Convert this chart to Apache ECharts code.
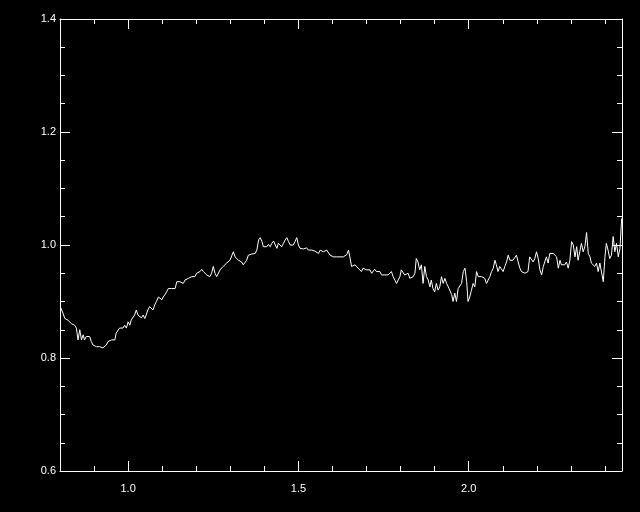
<!DOCTYPE html>
<html>
<head>
<meta charset="utf-8">
<script src="https://cdn.jsdelivr.net/npm/echarts/dist/echarts.min.js"></script>
<style>
  html, body { margin: 0; padding: 0; background: #000; }
  #chart { width: 640px; height: 512px; }
</style>
</head>
<body>
<div id="chart"></div>
<script>
// ---- data ----
const wavelengthA = [0.802, 0.809, 0.814, 0.823, 0.833, 0.843, 0.848, 0.853, 0.858, 0.863, 0.868, 0.872, 0.877, 0.882, 0.887, 0.892, 0.897, 0.902, 0.907, 0.912, 0.916, 0.921, 0.926, 0.931, 0.936, 0.941, 0.946, 0.951, 0.956, 0.961, 0.965, 0.970, 0.975, 0.980, 0.985, 0.990, 0.995, 1.000, 1.005, 1.009, 1.014, 1.019, 1.024, 1.029, 1.034, 1.039, 1.044, 1.049, 1.053, 1.058, 1.063, 1.068, 1.073, 1.078, 1.083];
const fluxA = [0.889, 0.879, 0.870, 0.867, 0.861, 0.858, 0.853, 0.832, 0.850, 0.832, 0.841, 0.832, 0.838, 0.835, 0.838, 0.829, 0.823, 0.826, 0.820, 0.823, 0.820, 0.822, 0.818, 0.820, 0.823, 0.829, 0.832, 0.832, 0.829, 0.832, 0.844, 0.847, 0.853, 0.855, 0.853, 0.858, 0.853, 0.864, 0.858, 0.867, 0.870, 0.876, 0.885, 0.876, 0.873, 0.871, 0.876, 0.870, 0.876, 0.885, 0.891, 0.888, 0.885, 0.894, 0.900];

const wavelengthB = [1.089, 1.094, 1.099, 1.103, 1.108, 1.113, 1.118, 1.123, 1.128, 1.133, 1.138, 1.143, 1.147, 1.152, 1.157, 1.162, 1.167, 1.172, 1.177, 1.182, 1.187, 1.191, 1.196, 1.201, 1.206, 1.211, 1.216, 1.221, 1.226, 1.231, 1.235, 1.240, 1.245, 1.250, 1.255, 1.260, 1.265, 1.270, 1.275, 1.279, 1.284, 1.289, 1.294, 1.299, 1.304, 1.309, 1.314, 1.319, 1.324, 1.328, 1.333, 1.338, 1.343, 1.348, 1.353, 1.358, 1.363, 1.368];
const fluxB = [0.908, 0.906, 0.903, 0.908, 0.912, 0.917, 0.923, 0.920, 0.923, 0.926, 0.923, 0.935, 0.938, 0.935, 0.935, 0.932, 0.938, 0.935, 0.941, 0.938, 0.944, 0.941, 0.944, 0.950, 0.950, 0.953, 0.957, 0.953, 0.950, 0.947, 0.950, 0.944, 0.950, 0.962, 0.950, 0.944, 0.944, 0.956, 0.959, 0.962, 0.959, 0.968, 0.970, 0.973, 0.976, 0.988, 0.979, 0.976, 0.973, 0.976, 0.970, 0.965, 0.968, 0.973, 0.982, 0.981, 0.984, 0.982];

const wavelengthC = [1.373, 1.378, 1.383, 1.388, 1.393, 1.397, 1.402, 1.407, 1.412, 1.417, 1.422, 1.427, 1.432, 1.437, 1.441, 1.446, 1.451, 1.456, 1.461, 1.466, 1.471, 1.476, 1.481, 1.485, 1.490, 1.495, 1.500, 1.505, 1.510, 1.515, 1.520, 1.524, 1.529, 1.534, 1.539, 1.544, 1.549, 1.554, 1.559, 1.564, 1.568, 1.573, 1.578, 1.583, 1.588, 1.593, 1.598, 1.603, 1.608, 1.612, 1.617, 1.622, 1.627, 1.632, 1.637, 1.642, 1.647];
const fluxC = [0.985, 0.991, 1.009, 1.013, 1.006, 0.997, 1.000, 0.997, 1.001, 0.997, 1.003, 1.007, 1.000, 0.994, 1.003, 1.000, 0.997, 1.003, 1.009, 1.013, 1.006, 1.000, 0.997, 1.000, 1.006, 1.013, 1.000, 0.994, 0.997, 0.993, 0.991, 0.995, 0.991, 0.988, 0.991, 0.994, 0.989, 0.988, 0.985, 0.991, 0.989, 0.988, 0.985, 0.991, 0.988, 0.982, 0.983, 0.979, 0.978, 0.979, 0.976, 0.979, 0.976, 0.979, 0.982, 0.983, 0.991];

const wavelengthD = [1.651, 1.656, 1.661, 1.666, 1.671, 1.675, 1.680, 1.685, 1.690, 1.695, 1.700, 1.705, 1.710, 1.715, 1.719, 1.724, 1.729, 1.734, 1.739, 1.744, 1.749, 1.754, 1.759, 1.763, 1.768, 1.773, 1.778, 1.783, 1.788, 1.793, 1.798, 1.802, 1.807, 1.812, 1.817, 1.822, 1.827, 1.832, 1.837, 1.842, 1.846, 1.851, 1.856, 1.861, 1.866, 1.871, 1.876, 1.881, 1.886, 1.890, 1.895, 1.900, 1.905, 1.910, 1.915, 1.920, 1.925];
const fluxD = [0.979, 0.962, 0.959, 0.965, 0.968, 0.959, 0.956, 0.953, 0.959, 0.962, 0.956, 0.953, 0.956, 0.950, 0.953, 0.957, 0.953, 0.950, 0.953, 0.947, 0.950, 0.947, 0.947, 0.947, 0.950, 0.953, 0.944, 0.938, 0.932, 0.929, 0.944, 0.956, 0.953, 0.947, 0.944, 0.950, 0.941, 0.938, 0.944, 0.950, 0.976, 0.970, 0.956, 0.965, 0.932, 0.962, 0.944, 0.938, 0.926, 0.938, 0.923, 0.917, 0.932, 0.920, 0.926, 0.944, 0.932];

const wavelengthE = [1.930, 1.935, 1.940, 1.945, 1.950, 1.954, 1.959, 1.964, 1.969, 1.974, 1.979, 1.984, 1.989, 1.994, 1.998, 2.003, 2.008, 2.013, 2.018, 2.023, 2.028, 2.033, 2.038, 2.042, 2.047, 2.052, 2.057, 2.062, 2.067, 2.072, 2.077, 2.081, 2.086, 2.091, 2.096, 2.101, 2.106, 2.111, 2.116, 2.121, 2.125, 2.130, 2.135, 2.140, 2.145, 2.150, 2.155, 2.160, 2.165, 2.169, 2.174, 2.179, 2.184, 2.189, 2.194, 2.199, 2.204];
const fluxE = [0.941, 0.932, 0.926, 0.923, 0.912, 0.900, 0.915, 0.900, 0.923, 0.926, 0.932, 0.953, 0.959, 0.935, 0.900, 0.908, 0.920, 0.932, 0.926, 0.953, 0.944, 0.947, 0.944, 0.947, 0.941, 0.932, 0.938, 0.944, 0.953, 0.959, 0.973, 0.965, 0.953, 0.962, 0.959, 0.953, 0.962, 0.970, 0.982, 0.973, 0.970, 0.973, 0.976, 0.982, 0.979, 0.959, 0.953, 0.956, 0.950, 0.947, 0.953, 0.979, 0.982, 0.970, 0.976, 0.988, 0.976];

const wavelengthF = [2.209, 2.214, 2.219, 2.224, 2.228, 2.233, 2.238, 2.243, 2.248, 2.253, 2.258, 2.263, 2.268, 2.272, 2.277, 2.282, 2.287, 2.292, 2.297, 2.302, 2.307, 2.312, 2.317, 2.321, 2.326, 2.331, 2.336, 2.341, 2.346, 2.351, 2.356, 2.360, 2.365, 2.370, 2.375, 2.380, 2.385, 2.390, 2.395, 2.400, 2.404, 2.409, 2.414, 2.419, 2.424, 2.429, 2.434, 2.439, 2.444, 2.449];
const fluxF = [0.956, 0.947, 0.962, 0.959, 0.979, 0.968, 0.985, 0.988, 0.985, 0.982, 0.979, 0.959, 0.973, 0.965, 0.968, 0.965, 0.970, 0.959, 0.973, 1.006, 1.000, 0.979, 0.997, 0.973, 0.988, 1.003, 0.988, 0.997, 1.022, 0.985, 0.979, 0.968, 0.965, 0.962, 0.968, 0.953, 0.968, 0.965, 0.935, 0.979, 1.003, 0.991, 0.976, 0.982, 1.015, 0.988, 1.003, 0.979, 0.994, 1.047];

const xMajorTicks = [1.0, 1.5, 2.0];
const xMinorTicks = [0.9, 1.1, 1.2, 1.3, 1.4, 1.6, 1.7, 1.8, 1.9, 2.1, 2.2, 2.3, 2.4];
const yMajorTicks = [0.6, 0.8, 1.0, 1.2, 1.4];
const yMinorTicks = [0.65, 0.7, 0.75, 0.85, 0.9, 0.95, 1.05, 1.1, 1.15, 1.25, 1.3, 1.35];
const xRange = [0.8, 2.45];
const yRange = [0.6, 1.4];

// ---- build ----
const wavelength = [].concat(wavelengthA, wavelengthB, wavelengthC, wavelengthD, wavelengthE, wavelengthF);
const flux = [].concat(fluxA, fluxB, fluxC, fluxD, fluxE, fluxF);
const points = wavelength.map((w, i) => [w, flux[i]]);

const WHITE = '#ffffff';
const FONT = 'Liberation Sans, Arial, sans-serif';

function makeAxis(kind, position, ticks, tickLen, showLabels, showLine) {
  const range = kind === 'x' ? xRange : yRange;
  return {
    type: 'value',
    position: position,
    min: range[0],
    max: range[1],
    scale: true,
    axisLine: { show: showLine, onZero: false, lineStyle: { color: WHITE, width: 1 } },
    axisTick: { show: true, inside: true, length: tickLen, customValues: ticks,
                lineStyle: { color: WHITE, width: 1 } },
    minorTick: { show: false },
    splitLine: { show: false },
    axisLabel: {
      show: showLabels,
      customValues: ticks,
      formatter: v => v.toFixed(1),
      color: WHITE,
      fontFamily: FONT,
      fontSize: 11,
      margin: kind === 'x' ? 12 : 4
    }
  };
}

const chart = echarts.init(document.getElementById('chart'), null, { renderer: 'canvas' });
chart.setOption({
  backgroundColor: '#000000',
  animation: false,
  grid: { left: 60, right: 18, top: 19, bottom: 41, containLabel: false },
  xAxis: [
    makeAxis('x', 'bottom', xMajorTicks, 10, true, true),
    makeAxis('x', 'bottom', xMinorTicks, 5, false, false),
    makeAxis('x', 'top', xMajorTicks, 10, false, true),
    makeAxis('x', 'top', xMinorTicks, 5, false, false)
  ],
  yAxis: [
    makeAxis('y', 'left', yMajorTicks, 10, true, true),
    makeAxis('y', 'left', yMinorTicks, 5, false, false),
    makeAxis('y', 'right', yMajorTicks, 10, false, true),
    makeAxis('y', 'right', yMinorTicks, 5, false, false)
  ],
  series: [{
    type: 'line',
    xAxisIndex: 0,
    yAxisIndex: 0,
    data: points,
    showSymbol: false,
    symbol: 'none',
    clip: true,
    lineStyle: { color: WHITE, width: 1 }
  }]
});
</script>
</body>
</html>
